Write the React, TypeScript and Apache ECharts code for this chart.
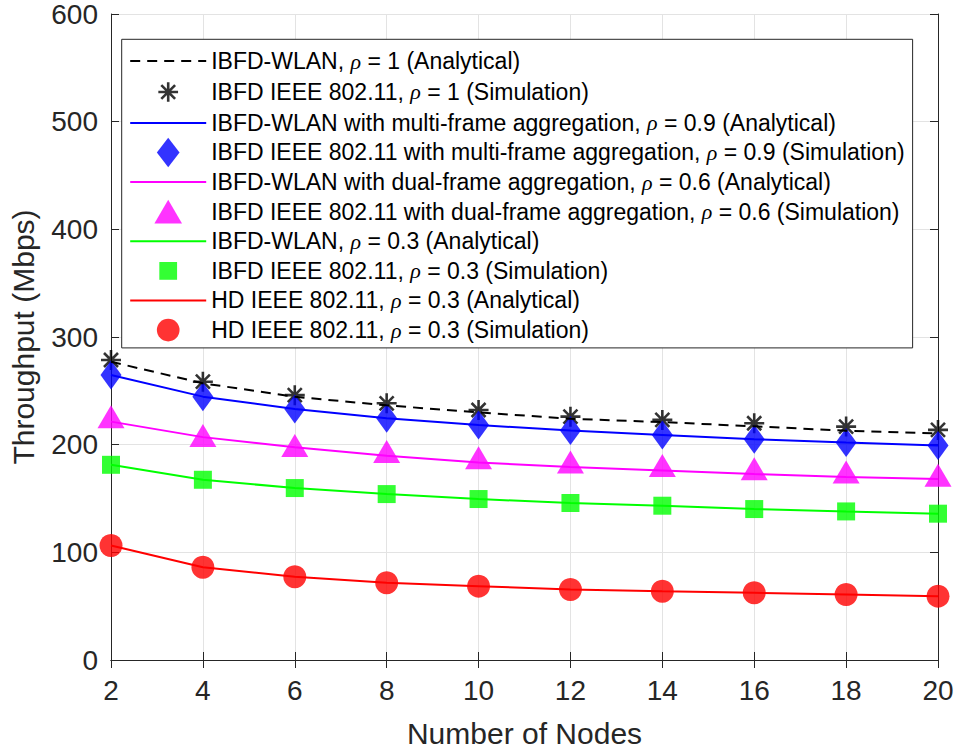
import React, { useEffect, useRef } from 'react';
import * as echarts from 'echarts';

const nodes = [2, 4, 6, 8, 10, 12, 14, 16, 18, 20];

const anaRho1 = [277, 257, 244.5, 236.5, 230, 224, 221, 217, 213, 210.5];
const simRho1 = [278.6, 258.5, 246, 238.4, 232.2, 226, 223, 219.9, 216.8, 213.7];
const anaMulti = [264.7, 244.6, 233.2, 224.5, 218.3, 213.1, 209, 205.1, 202, 199.2];
const simMulti = [264.7, 244.6, 233.2, 224.5, 218.3, 213.1, 209, 205.1, 202, 199.2];
const anaDual = [221.4, 207, 197.7, 189.6, 183.4, 179.2, 176, 172.7, 169.9, 168];
const simDual = [226, 208.4, 199.2, 193.6, 187.8, 183.8, 180.7, 177.6, 174.5, 171.7];
const anaRho03 = [181.3, 167.4, 159.7, 154.1, 149.5, 145.8, 143.3, 140.2, 138, 135.9];
const simRho03 = [181.3, 167.4, 159.7, 154.1, 149.5, 145.8, 143.3, 140.2, 138, 135.9];
const anaHD = [106.3, 86.2, 77.3, 71.7, 68.6, 65.5, 63.9, 62.4, 60.9, 59.3];
const simHD = [106.3, 86.2, 77.3, 71.7, 68.6, 65.5, 63.9, 62.4, 60.9, 59.3];

const names = [
  'IBFD-WLAN, ρ = 1 (Analytical)',
  'IBFD IEEE 802.11, ρ = 1 (Simulation)',
  'IBFD-WLAN with multi-frame aggregation, ρ = 0.9 (Analytical)',
  'IBFD IEEE 802.11 with multi-frame aggregation, ρ = 0.9 (Simulation)',
  'IBFD-WLAN with dual-frame aggregation, ρ = 0.6 (Analytical)',
  'IBFD IEEE 802.11 with dual-frame aggregation, ρ = 0.6 (Simulation)',
  'IBFD-WLAN, ρ = 0.3 (Analytical)',
  'IBFD IEEE 802.11, ρ = 0.3 (Simulation)',
  'HD IEEE 802.11, ρ = 0.3 (Analytical)',
  'HD IEEE 802.11, ρ = 0.3 (Simulation)',
];

const STAR = 'path://M0,-10L0,10M-10,0L10,0M-7,-7L7,7M-7,7L7,-7';
const PAD = 'M-15,-15M15,15';
const STAR_LEG = 'path://' + PAD + 'M0,-10L0,10M-10,0L10,0M-7,-7L7,7M-7,7L7,-7';
const DIAMOND_LEG = 'path://' + PAD + 'M0,-15L11.5,0L0,15L-11.5,0Z';
const TRI_LEG = 'path://' + PAD + 'M0,-12L14,12L-14,12Z';
const SQUARE_LEG = 'path://' + PAD + 'M-9,-9L9,-9L9,9L-9,9Z';
const CIRCLE_LEG = 'path://' + PAD + 'M11.5,0A11.5,11.5,0,1,1,-11.5,0A11.5,11.5,0,1,1,11.5,0Z';

const FONT = 'Liberation Sans, Arial, Helvetica, sans-serif';
const TXT = '#262626';

function zip(ys: number[]) {
  return nodes.map((x, i) => [x, ys[i]]);
}

function lineSeries(name: string, ys: number[], color: string, dashed = false) {
  return {
    type: 'line',
    name,
    data: zip(ys),
    symbol: 'none',
    lineStyle: { color, width: 2, type: dashed ? [10, 7] : 'solid' },
    itemStyle: { color },
    silent: true,
  };
}

function scatterSeries(name: string, ys: number[], color: string, symbol: string, size: any, stroke = false) {
  return {
    type: 'scatter',
    name,
    data: zip(ys),
    symbol,
    symbolSize: size,
    itemStyle: stroke
      ? { color, borderColor: color, borderWidth: 2.6 }
      : { color, borderColor: color, borderWidth: 0 },
    silent: true,
  };
}

const hideSym = { itemStyle: { opacity: 0 } };

export default function App() {
  const ref = useRef<HTMLDivElement>(null);
  useEffect(() => {
    const chart = echarts.init(ref.current!, null, { renderer: 'svg' });
    const axisCommon = {
      type: 'value',
      axisLine: { show: true, lineStyle: { color: TXT, width: 1 } },
      axisTick: { show: true, inside: true, length: 8, lineStyle: { color: TXT } },
    };
    const option: any = {
      animation: false,
      backgroundColor: '#ffffff',
      grid: { left: 111, right: 21, top: 13, bottom: 92, containLabel: false },
      xAxis: [
        {
          ...axisCommon,
          min: 2,
          max: 20,
          interval: 2,
          position: 'bottom',
          name: 'Number of Nodes',
          nameLocation: 'middle',
          nameGap: 58,
          nameTextStyle: { fontFamily: FONT, fontSize: 30, color: TXT, verticalAlign: 'top' },
          axisLabel: { fontFamily: FONT, fontSize: 28, color: TXT, margin: 16 },
          splitLine: { show: true, lineStyle: { color: '#e3e3e3', width: 1 } },
        },
        {
          ...axisCommon,
          min: 2,
          max: 20,
          interval: 2,
          position: 'top',
          axisLabel: { show: false },
          splitLine: { show: false },
        },
      ],
      yAxis: [
        {
          ...axisCommon,
          min: 0,
          max: 600,
          interval: 100,
          position: 'left',
          name: 'Throughput (Mbps)',
          nameLocation: 'middle',
          nameGap: 73,
          nameTextStyle: { fontFamily: FONT, fontSize: 30, color: TXT },
          axisLabel: { fontFamily: FONT, fontSize: 28, color: TXT, margin: 13 },
          splitLine: { show: true, lineStyle: { color: '#e3e3e3', width: 1 } },
        },
        {
          ...axisCommon,
          min: 0,
          max: 600,
          interval: 100,
          position: 'right',
          axisLabel: { show: false },
          splitLine: { show: false },
        },
      ],
      legend: {
        orient: 'vertical',
        left: 121.7,
        top: 39.3,
        padding: [7, 8, 3, 7.5],
        itemWidth: 76,
        itemHeight: 29.6,
        itemGap: 0,
        selectedMode: false,
        backgroundColor: '#ffffff',
        borderColor: TXT,
        borderWidth: 1,
        borderRadius: 0,
        textStyle: {
          fontFamily: FONT,
          fontSize: 23,
          color: '#000',
          lineHeight: 29.6,
          rich: {
            r: { fontFamily: 'Liberation Serif, DejaVu Serif, serif', fontStyle: 'italic', fontSize: 22, lineHeight: 29.6, color: '#000' },
          },
        },
        formatter: (name: string) => name.replace('ρ', '{r|ρ}'),
        data: [
          { name: names[0], ...hideSym },
          { name: names[1], icon: STAR_LEG, itemStyle: { borderWidth: 2.6 } },
          { name: names[2], ...hideSym },
          { name: names[3], icon: DIAMOND_LEG },
          { name: names[4], ...hideSym },
          { name: names[5], icon: TRI_LEG },
          { name: names[6], ...hideSym },
          { name: names[7], icon: SQUARE_LEG },
          { name: names[8], ...hideSym },
          { name: names[9], icon: CIRCLE_LEG },
        ],
      },
      series: [
        lineSeries(names[0], anaRho1, '#000000', true),
        scatterSeries(names[1], simRho1, '#000000', STAR, 20, true),
        lineSeries(names[2], anaMulti, '#0000ff'),
        scatterSeries(names[3], simMulti, '#0000ff', 'diamond', [21, 29]),
        lineSeries(names[4], anaDual, '#ff00ff'),
        scatterSeries(names[5], simDual, '#ff00ff', 'triangle', [27, 23]),
        lineSeries(names[6], anaRho03, '#00ff00'),
        scatterSeries(names[7], simRho03, '#00ff00', 'rect', 18),
        lineSeries(names[8], anaHD, '#ff0000'),
        scatterSeries(names[9], simHD, '#ff0000', 'circle', 23),
      ],
    };
    chart.setOption(option);
    return () => chart.dispose();
  }, []);
  return (
    <div
      ref={ref}
      style={{ position: 'absolute', left: 0, top: 0, width: 959, height: 753 }}
    />
  );
}
